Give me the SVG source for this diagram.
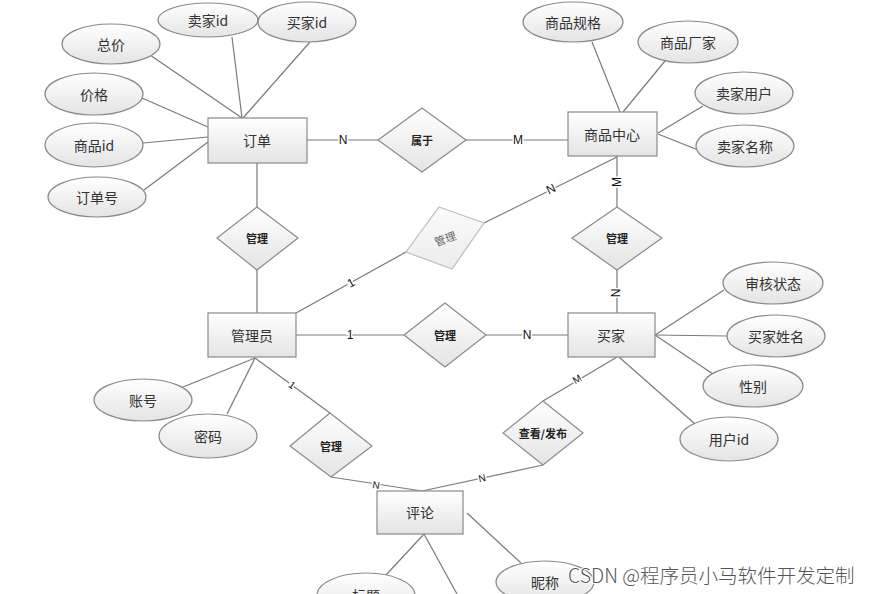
<svg xmlns="http://www.w3.org/2000/svg" width="875" height="594" viewBox="0 0 875 594">
<defs>
<linearGradient id="g" x1="0" y1="0" x2="0" y2="1">
<stop offset="0" stop-color="#ffffff"/>
<stop offset="1" stop-color="#e4e4e4"/>
</linearGradient>
<linearGradient id="g2" x1="0" y1="0" x2="0" y2="1">
<stop offset="0" stop-color="#fbfbfb"/>
<stop offset="1" stop-color="#ececec"/>
</linearGradient>
</defs>
<style>
.shape{fill:url(#g);stroke:#8a8a8a;stroke-width:1.2}
.light{fill:url(#g2);stroke:#bdbdbd;stroke-width:1.2}
.ln{stroke:#7a7a7a;stroke-width:1.2;fill:none}
.t{font-family:"Noto Sans CJK SC","Liberation Sans",sans-serif;font-size:14px;fill:#333;text-anchor:middle;dominant-baseline:central}
.d{font-family:"Noto Sans CJK SC","Liberation Sans",sans-serif;font-size:11px;font-weight:bold;fill:#222;text-anchor:middle;dominant-baseline:central}
.c{font-family:"Liberation Sans",sans-serif;font-size:12px;fill:#111;text-anchor:middle;dominant-baseline:central;stroke:#fff;stroke-width:3px;paint-order:stroke}
.cs{font-family:"Liberation Sans",sans-serif;font-size:10px;fill:#111;text-anchor:middle;dominant-baseline:central;stroke:#fff;stroke-width:3px;paint-order:stroke}
.wm{font-family:"Noto Sans CJK SC","Liberation Sans",sans-serif;font-size:19.5px;font-weight:300;fill:#555;stroke:#fff;stroke-width:2px;paint-order:stroke}
</style>
<rect width="875" height="594" fill="#fff"/>
<g id="connectors">
<line class="ln" x1="150" y1="55" x2="242" y2="118"/>
<line class="ln" x1="232" y1="37" x2="242" y2="118"/>
<line class="ln" x1="310" y1="42" x2="243" y2="118"/>
<line class="ln" x1="142" y1="98" x2="208" y2="127"/>
<line class="ln" x1="143" y1="143" x2="208" y2="137"/>
<line class="ln" x1="144" y1="190" x2="208" y2="142"/>
<line class="ln" x1="307" y1="140" x2="378" y2="140"/>
<line class="ln" x1="466" y1="140" x2="568" y2="140"/>
<line class="ln" x1="592" y1="42" x2="620" y2="112"/>
<line class="ln" x1="665" y1="61" x2="623" y2="112"/>
<line class="ln" x1="703" y1="106" x2="658" y2="133"/>
<line class="ln" x1="698" y1="150" x2="658" y2="134"/>
<line class="ln" x1="257" y1="163" x2="257" y2="207"/>
<line class="ln" x1="257" y1="270" x2="257" y2="313"/>
<line class="ln" x1="617" y1="156" x2="617" y2="207"/>
<line class="ln" x1="617" y1="270" x2="617" y2="313"/>
<line class="ln" x1="296" y1="313" x2="406" y2="252"/>
<line class="ln" x1="484" y1="223" x2="617" y2="157"/>
<line class="ln" x1="296" y1="335" x2="404" y2="335"/>
<line class="ln" x1="486" y1="335" x2="568" y2="335"/>
<line class="ln" x1="655" y1="335" x2="724" y2="290"/>
<line class="ln" x1="655" y1="335" x2="727" y2="336"/>
<line class="ln" x1="655" y1="335" x2="713" y2="374"/>
<line class="ln" x1="619" y1="357" x2="695" y2="424"/>
<line class="ln" x1="617" y1="357" x2="543" y2="401"/>
<line class="ln" x1="255" y1="358" x2="183" y2="387"/>
<line class="ln" x1="255" y1="358" x2="227" y2="414"/>
<line class="ln" x1="255" y1="358" x2="330" y2="413"/>
<line class="ln" x1="331" y1="477" x2="422" y2="491"/>
<line class="ln" x1="543" y1="465" x2="422" y2="491"/>
<line class="ln" x1="424" y1="534" x2="386" y2="575"/>
<line class="ln" x1="424" y1="534" x2="457" y2="594"/>
<line class="ln" x1="467" y1="513" x2="521" y2="563"/>
<text class="c" x="343" y="140">N</text>
<text class="c" x="518" y="140">M</text>
<text class="c" x="350" y="335">1</text>
<text class="c" x="527" y="335">N</text>
<text class="c" transform="translate(351,283) rotate(-29)">1</text>
<text class="c" transform="translate(551,189) rotate(-26)">N</text>
<text class="c" transform="translate(617,182) rotate(-90)">M</text>
<text class="c" transform="translate(616,293) rotate(-90)">N</text>
<text class="cs" transform="translate(292,385) rotate(36)">1</text>
<text class="cs" transform="translate(577,379) rotate(-31)">M</text>
<text class="cs" transform="translate(376,485) rotate(9)">N</text>
<text class="cs" transform="translate(482,478) rotate(-12)">N</text>
</g>
<g id="dingdan"><rect class="shape" x="208" y="118" width="99" height="45"/><text class="t" x="257" y="140">订单</text></g>
<g id="shangpinzhongxin"><rect class="shape" x="568" y="112" width="89" height="44"/><text class="t" x="612" y="134">商品中心</text></g>
<g id="guanliyuan"><rect class="shape" x="208" y="313" width="88" height="44"/><text class="t" x="252" y="335">管理员</text></g>
<g id="maijia"><rect class="shape" x="568" y="313" width="87" height="44"/><text class="t" x="611" y="335">买家</text></g>
<g id="pinglun"><rect class="shape" x="377" y="491" width="86" height="43"/><text class="t" x="420" y="512">评论</text></g>
<g id="a-zongjia"><ellipse class="shape" cx="111" cy="44" rx="49" ry="20"/><text class="t" x="111" y="44">总价</text></g>
<g id="a-maijiaid1"><ellipse class="shape" cx="208" cy="20" rx="50" ry="17"/><text class="t" x="208" y="20">卖家id</text></g>
<g id="a-maijiaid2"><ellipse class="shape" cx="307" cy="22" rx="49" ry="20"/><text class="t" x="307" y="22">买家id</text></g>
<g id="a-jiage"><ellipse class="shape" cx="94" cy="94" rx="49" ry="21"/><text class="t" x="94" y="94">价格</text></g>
<g id="a-shangpinid"><ellipse class="shape" cx="94" cy="145" rx="49" ry="22"/><text class="t" x="94" y="145">商品id</text></g>
<g id="a-dingdanhao"><ellipse class="shape" cx="97" cy="197" rx="49" ry="20"/><text class="t" x="97" y="197">订单号</text></g>
<g id="a-guige"><ellipse class="shape" cx="573" cy="22" rx="50" ry="20"/><text class="t" x="573" y="22">商品规格</text></g>
<g id="a-changjia"><ellipse class="shape" cx="688" cy="42" rx="50" ry="21"/><text class="t" x="688" y="42">商品厂家</text></g>
<g id="a-maijiayonghu"><ellipse class="shape" cx="744" cy="93" rx="49" ry="21"/><text class="t" x="744" y="93">卖家用户</text></g>
<g id="a-maijiamingcheng"><ellipse class="shape" cx="745" cy="146" rx="49" ry="21"/><text class="t" x="745" y="146">卖家名称</text></g>
<g id="a-shenhe"><ellipse class="shape" cx="773" cy="283" rx="50" ry="21"/><text class="t" x="773" y="283">审核状态</text></g>
<g id="a-xingming"><ellipse class="shape" cx="776" cy="336" rx="49" ry="21"/><text class="t" x="776" y="336">买家姓名</text></g>
<g id="a-xingbie"><ellipse class="shape" cx="753" cy="386" rx="50" ry="21"/><text class="t" x="753" y="386">性别</text></g>
<g id="a-yonghuid"><ellipse class="shape" cx="729" cy="439" rx="49" ry="22"/><text class="t" x="729" y="439">用户id</text></g>
<g id="a-zhanghao"><ellipse class="shape" cx="143" cy="400" rx="49" ry="21"/><text class="t" x="143" y="400">账号</text></g>
<g id="a-mima"><ellipse class="shape" cx="208" cy="436" rx="49" ry="22"/><text class="t" x="208" y="436">密码</text></g>
<g id="a-biaoti"><ellipse class="shape" cx="366" cy="595" rx="49" ry="22"/><text class="t" x="366" y="595">标题</text></g>
<g id="a-nicheng"><ellipse class="shape" cx="545" cy="582" rx="49" ry="21"/><text class="t" x="545" y="582">昵称</text></g>
<g id="r-shuyu"><polygon class="shape" points="422,108 466,140 422,172 378,140"/><text class="d" x="422" y="140">属于</text></g>
<g id="r-guanli1"><polygon class="shape" points="257,207 298,238 257,270 217,238"/><text class="d" x="257" y="238">管理</text></g>
<g id="r-guanli2"><polygon class="light" points="439,207 484,223 452,269 406,252"/><text class="d" style="font-weight:normal;fill:#666" transform="translate(445,238) rotate(-20)">管理</text></g>
<g id="r-guanli3"><polygon class="shape" points="617,207 662,238 617,270 572,238"/><text class="d" x="617" y="238">管理</text></g>
<g id="r-guanli4"><polygon class="shape" points="445,303 486,335 445,367 404,335"/><text class="d" x="445" y="335">管理</text></g>
<g id="r-guanli5"><polygon class="shape" points="330,413 372,446 331,477 290,446"/><text class="d" x="331" y="446">管理</text></g>
<g id="r-chakan"><polygon class="shape" points="543,401 583,433 543,465 503,433"/><text class="d" x="543" y="433">查看/发布</text></g>
<text class="wm" x="568" y="583">CSDN @程序员小马软件开发定制</text>
</svg>
